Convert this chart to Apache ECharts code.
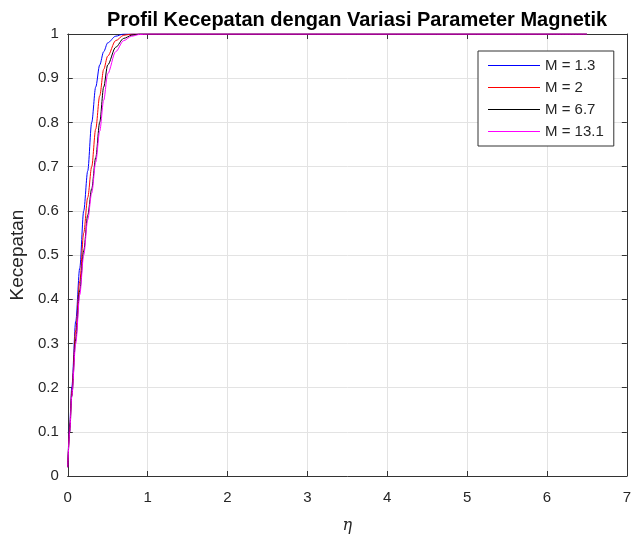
<!DOCTYPE html>
<html>
<head>
<meta charset="utf-8">
<script src="https://cdn.jsdelivr.net/npm/echarts@6/dist/echarts.min.js"></script>
<style>
  html, body { margin: 0; padding: 0; background: #ffffff; }
  #chart { width: 634px; height: 539px; }
</style>
</head>
<body>
<div id="chart"></div>
<script>
// Similarity variable eta (shared abscissa for every profile)
const eta = [0, 0.025, 0.05, 0.1, 0.15, 0.2, 0.25, 0.3, 0.35, 0.4, 0.45, 0.5, 0.6, 0.7, 0.8, 0.9, 1.0,
             1.5, 2, 2.5, 3, 3.5, 4, 4.5, 5, 5.5, 6, 6.5];

// Velocity profiles for each magnetic parameter M
const velM13  = [0.02, 0.12, 0.20, 0.35, 0.47, 0.60, 0.69, 0.80, 0.88, 0.93, 0.96, 0.98, 0.995, 1.0, 1.0, 1.0, 1.0,
                 1, 1, 1, 1, 1, 1, 1, 1, 1, 1, 1];
const velM2   = [0.02, 0.11, 0.19, 0.33, 0.44, 0.55, 0.63, 0.70, 0.785, 0.86, 0.92, 0.95, 0.985, 0.997, 1.0, 1.0, 1.0,
                 1, 1, 1, 1, 1, 1, 1, 1, 1, 1, 1];
const velM67  = [0.02, 0.10, 0.18, 0.31, 0.42, 0.51, 0.59, 0.65, 0.72, 0.80, 0.88, 0.93, 0.97, 0.99, 0.997, 1.0, 1.0,
                 1, 1, 1, 1, 1, 1, 1, 1, 1, 1, 1];
const velM131 = [0.02, 0.10, 0.18, 0.30, 0.41, 0.50, 0.58, 0.64, 0.71, 0.78, 0.85, 0.91, 0.96, 0.985, 0.995, 0.999, 1.0,
                 1, 1, 1, 1, 1, 1, 1, 1, 1, 1, 1];

const seriesNames = ['M = 1.3', 'M = 2', 'M = 6.7', 'M = 13.1'];
const seriesColors = ['#0000ff', '#ff0000', '#000000', '#ff00ff'];
const seriesValues = [velM13, velM2, velM67, velM131];

// Tick values
const xTicks = [0, 1, 2, 3, 4, 5, 6, 7];
const yTicks = [0, 0.1, 0.2, 0.3, 0.4, 0.5, 0.6, 0.7, 0.8, 0.9, 1];

const FONT = '"Liberation Sans", Arial, Helvetica, sans-serif';
const AXIS_COLOR = '#333333';
const LABEL_COLOR = '#262626';
const GRID_COLOR = '#e3e3e3';

const chart = echarts.init(document.getElementById('chart'), null, { renderer: 'canvas' });

const baseAxis = {
  axisLine: { show: true, onZero: false, lineStyle: { color: AXIS_COLOR, width: 1 } },
  axisTick: { show: true, inside: true, length: 5, lineStyle: { color: AXIS_COLOR, width: 1 } }
};

// thin horizontal bar used as the legend key
const LEGEND_LINE = 'path://M0,0 L52,0 L52,1 L0,1 Z';

const option = {
  backgroundColor: '#ffffff',
  animation: false,
  title: {
    text: 'Profil Kecepatan dengan Variasi Parameter Magnetik',
    left: 352,
    textAlign: 'center',
    top: 5,
    textStyle: { fontFamily: FONT, fontWeight: 'bold', fontSize: 20, color: '#000000' }
  },
  grid: { left: 65, right: 6, top: 34, bottom: 60, containLabel: false },
  legend: {
    orient: 'vertical',
    left: 478,
    top: 51,
    padding: [7, 10, 7, 10],
    itemWidth: 52,
    itemHeight: 14,
    itemGap: 7,
    backgroundColor: '#ffffff',
    borderColor: '#333333',
    borderWidth: 1,
    borderRadius: 0,
    textStyle: { fontFamily: FONT, fontSize: 15, color: '#262626' },
    data: seriesNames.map((n, i) => ({ name: n, icon: LEGEND_LINE, itemStyle: { color: seriesColors[i] } }))
  },
  xAxis: [
    Object.assign({}, baseAxis, {
      type: 'value', min: xTicks[0], max: xTicks[xTicks.length - 1], interval: 1,
      position: 'bottom',
      name: 'η', nameLocation: 'middle', nameGap: 44,
      nameTextStyle: { fontFamily: '"DejaVu Serif", "Liberation Serif", serif', fontStyle: 'italic', fontSize: 16, lineHeight: 12, color: '#262626' },
      axisLabel: { fontFamily: FONT, fontSize: 15, color: LABEL_COLOR, margin: 14 },
      splitLine: { show: true, lineStyle: { color: GRID_COLOR, width: 1 } }
    }),
    Object.assign({}, baseAxis, {
      type: 'value', min: xTicks[0], max: xTicks[xTicks.length - 1], interval: 1,
      position: 'top',
      axisLabel: { show: false },
      splitLine: { show: false }
    })
  ],
  yAxis: [
    Object.assign({}, baseAxis, {
      type: 'value', min: yTicks[0], max: yTicks[yTicks.length - 1], interval: 0.1,
      position: 'left',
      name: 'Kecepatan', nameLocation: 'middle', nameGap: 39,
      nameTextStyle: { fontFamily: FONT, fontSize: 19, lineHeight: 19, color: '#262626' },
      axisLabel: { fontFamily: FONT, fontSize: 15, color: LABEL_COLOR, margin: 9,
                   formatter: v => String(Math.round(v * 10) / 10) },
      splitLine: { show: true, lineStyle: { color: GRID_COLOR, width: 1 } }
    }),
    Object.assign({}, baseAxis, {
      type: 'value', min: yTicks[0], max: yTicks[yTicks.length - 1], interval: 0.1,
      position: 'right',
      axisLabel: { show: false },
      splitLine: { show: false }
    })
  ],
  series: seriesValues.map((vals, i) => ({
    name: seriesNames[i],
    type: 'line',
    xAxisIndex: 0,
    yAxisIndex: 0,
    data: eta.map((x, k) => [x, vals[k]]),
    showSymbol: false,
    symbol: 'none',
    smooth: 0.3,
    smoothMonotone: 'x',
    lineStyle: { color: seriesColors[i], width: 1 },
    itemStyle: { color: seriesColors[i] },
    z: 2 + i
  }))
};

chart.setOption(option);
</script>
</body>
</html>
